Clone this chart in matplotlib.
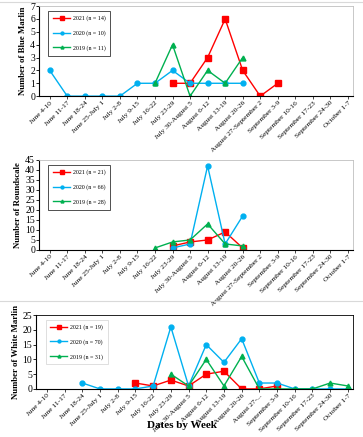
"""Weekly catch counts of billfish, three panels (Blue Marlin, Roundscale, White Marlin)."""

import numpy as np
import matplotlib
matplotlib.use("Agg")
import matplotlib.pyplot as plt
from matplotlib.lines import Line2D

plt.rcParams['font.family'] = ['Liberation Serif', 'DejaVu Serif']

nan = np.nan

weeks = ["June 4-10", "June 11-17", "June 18-24", "June 25-July 1", "July 2-8",
         "July 9-15", "July 16-22", "July 23-29", "July 30-August 5", "August 6-12",
         "August 13-19", "August 20-26", "August 27-September 2", "September 3-9",
         "September 10-16", "September 17-23", "September 24-30", "October 1-7"]
weeks_white = weeks[:12] + ["August 27-..."] + weeks[13:]

# Blue Marlin
blue_2021 = [nan, nan, nan, nan, nan, nan, nan, 1, 1, 3, 6, 2, 0, 1, nan, nan, nan, nan]
blue_2020 = [2, 0, 0, 0, 0, 1, 1, 2, 1, 1, 1, 1, nan, nan, nan, nan, nan, nan]
blue_2019 = [nan, nan, nan, nan, nan, nan, 1, 4, 0, 2, 1, 3, nan, nan, nan, nan, nan, nan]

# Roundscale
round_2021 = [nan, nan, nan, nan, nan, nan, nan, 2, 4, 5, 9, 1, nan, nan, nan, nan, nan, nan]
round_2020 = [nan, nan, nan, nan, nan, nan, nan, 1, 3, 42, 3, 17, nan, nan, nan, nan, nan, nan]
round_2019 = [nan, nan, nan, nan, nan, nan, 1, 4, 5, 13, 3, 2, nan, nan, nan, nan, nan, nan]

# White Marlin
white_2021 = [nan, nan, nan, nan, nan, 2, 1, 3, 1, 5, 6, 0, 0, 1, nan, nan, nan, nan]
white_2020 = [nan, nan, 2, 0, 0, 0, 1, 21, 1, 15, 9, 17, 2, 2, 0, 0, 0, 0]
white_2019 = [nan, nan, nan, nan, nan, nan, nan, 5, 1, 10, 1, 11, 0, 0, 0, 0, 2, 1]

RED = "#ff0000"
BLUE = "#00b0f0"
GREEN = "#00b050"

fig = plt.figure(figsize=(3.63, 4.37), dpi=100)

# light grey separators between chart blocks
for y in [0.996, 0.311]:
    fig.add_artist(Line2D([0, 1], [y, y], color="#d9d9d9", lw=0.8))

panels = [
    dict(rect=[0.108, 0.780, 0.865, 0.206], data=(blue_2021, blue_2020, blue_2019),
         n=(14, 10, 11), ylim=7, step=1, ylabel="Number of Blue Marlin", labels=weeks,
         box="#bfbfbf"),
    dict(rect=[0.108, 0.428, 0.865, 0.206], data=(round_2021, round_2020, round_2019),
         n=(21, 66, 28), ylim=45, step=5, ylabel="Number of Roundscale", labels=weeks,
         box="#bfbfbf"),
    dict(rect=[0.100, 0.110, 0.873, 0.169], data=(white_2021, white_2020, white_2019),
         n=(19, 70, 31), ylim=25, step=5, ylabel="Number of White Marlin", labels=weeks_white,
         box="black"),
]

x = np.arange(len(weeks))

for i, p in enumerate(panels):
    ax = fig.add_axes(p["rect"])
    d21, d20, d19 = p["data"]
    n21, n20, n19 = p["n"]
    ax.plot(x, d21, color=RED, marker="s", ms=4.5, lw=1.0, label=f"2021 (n = {n21})")
    ax.plot(x, d20, color=BLUE, marker="o", ms=3.5, lw=1.0, label=f"2020 (n = {n20})")
    ax.plot(x, d19, color=GREEN, marker="^", ms=3.5, lw=1.0, label=f"2019 (n = {n19})")

    ax.set_xlim(-0.6, 17.3)
    ax.set_ylim(0, p["ylim"])
    ax.set_yticks(np.arange(0, p["ylim"] + 1, p["step"]))
    ax.tick_params(axis="y", labelsize=7, length=2, width=0.6, pad=1)
    ax.set_xticks(x)
    ax.set_xticklabels(p["labels"], rotation=45, ha="right", rotation_mode="anchor",
                       fontsize=5.3)
    ax.tick_params(axis="x", length=2, width=0.5, pad=1)
    ax.set_ylabel(p["ylabel"], fontsize=6.3, fontweight="bold", labelpad=2)

    for side in ["top", "right"]:
        ax.spines[side].set_color(p["box"])
        ax.spines[side].set_linewidth(0.6)
    ax.spines["left"].set_linewidth(0.8)
    ax.spines["bottom"].set_linewidth(0.8)

    leg = ax.legend(loc="upper left", bbox_to_anchor=(0.02, 0.98), fontsize=4.3,
                    frameon=True, fancybox=False,
                    edgecolor="black" if i < 2 else "#d0d0d0",
                    handlelength=2.8, labelspacing=1.5, borderpad=0.8,
                    handletextpad=0.5, markerscale=0.6)
    leg.get_frame().set_linewidth(0.6)

fig.text(0.5, 0.016, "Dates by Week", ha="center", va="bottom",
         fontsize=8, fontweight="bold")

fig.savefig("out.png", dpi=100)
